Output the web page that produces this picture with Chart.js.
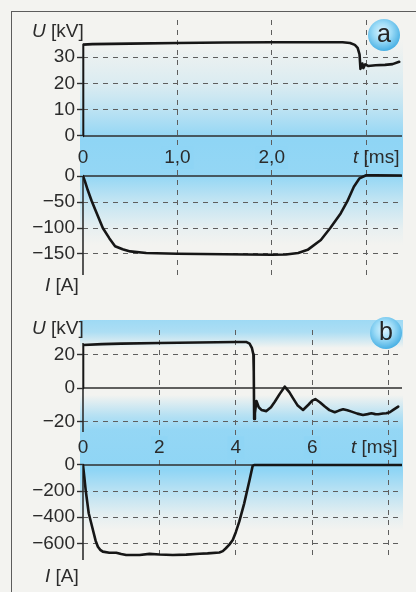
<!DOCTYPE html>
<html>
<head>
<meta charset="utf-8">
<script src="https://cdn.jsdelivr.net/npm/chart.js@4.4.1/dist/chart.umd.min.js"></script>
<style>
  html, body { margin: 0; padding: 0; }
  body {
    width: 416px; height: 592px; position: relative; overflow: hidden;
    background: #f3f3f0;
    font-family: "Liberation Sans", Arial, sans-serif; color: #2b2b2b;
  }
  .frame {
    position: absolute; left: 11px; top: 11px; width: 430px; height: 600px;
    border: 1.5px solid #5c5c5c; box-sizing: border-box;
  }
  .band { position: absolute; left: 80px; width: 323px; }
  #bandA {
    top: 40px; height: 220px;
    background: linear-gradient(to bottom,
      rgba(143,213,245,0) 0px, rgba(143,213,245,0.25) 45px, rgba(143,213,245,0.55) 70px,
      rgba(143,213,245,1) 100px, rgba(143,213,245,0.95) 136px, rgba(143,213,245,0.5) 160px,
      rgba(143,213,245,0.1) 190px, rgba(143,213,245,0) 205px);
  }
  #bandB {
    top: 320px; height: 220px;
    background: linear-gradient(to bottom,
      rgba(143,213,245,0.85) 0px, rgba(143,213,245,0.7) 12px, rgba(143,213,245,0) 28px,
      rgba(143,213,245,0) 75px, rgba(143,213,245,0.6) 95px, rgba(143,213,245,0.95) 110px,
      rgba(143,213,245,1) 150px, rgba(143,213,245,0.6) 170px, rgba(143,213,245,0.15) 195px,
      rgba(143,213,245,0) 210px);
  }
  canvas { position: absolute; left: 0; }
  #chartA { top: 0; }
  #chartB { top: 300px; }
  .lbl { position: absolute; font-size: 19px; line-height: 22px; white-space: nowrap; z-index: 2; }
  .badge {
    position: absolute; width: 32px; height: 32px; border-radius: 50%; z-index: 2;
    background: radial-gradient(circle at 45% 40%, #dff5ff 0%, #9edcf7 35%, #45aee3 75%, #2384c4 100%);
    font-size: 25px; line-height: 29px; text-align: center; color: #262626;
  }
</style>
</head>
<body>
<div class="frame"></div>
<div class="band" id="bandA"></div>
<div class="band" id="bandB"></div>
<canvas id="chartA" width="416" height="290"></canvas>
<canvas id="chartB" width="416" height="292"></canvas>

<div class="lbl" style="left:32px; top:20px;"><i>U</i> [kV]</div>
<div class="lbl" style="left:45px; top:274px;"><i>I</i> [A]</div>
<div class="lbl" style="left:353px; top:146px;"><i>t</i> [ms]</div>
<div class="badge" style="left:368px; top:19px;">a</div>

<div class="lbl" style="left:32px; top:317px;"><i>U</i> [kV]</div>
<div class="lbl" style="left:45px; top:565px;"><i>I</i> [A]</div>
<div class="lbl" style="left:351px; top:436px;"><i>t</i> [ms]</div>
<div class="badge" style="left:370px; top:317px;">b</div>

<script>
// ---- panel a: voltage (kV) and current (A) over time (ms) ----
const A_T_VOLT = [0, 0, 0.1, 0.5, 1.0, 1.5, 2.0, 2.5, 2.75, 2.83, 2.88, 2.91, 2.93, 2.94, 2.96, 2.97, 2.99, 3.02, 3.1, 3.2, 3.28, 3.35];
const A_VOLT   = [0, 34.7, 34.9, 35.1, 35.3, 35.5, 35.6, 35.6, 35.6, 35.3, 34.6, 33.5, 31, 25.5, 27.5, 25.8, 27.2, 26.6, 26.9, 27.0, 27.3, 28.2];
const A_T_CURR = [0, 0.02, 0.05, 0.09, 0.13, 0.21, 0.28, 0.34, 0.42, 0.5, 0.67, 1.0, 1.5, 2.0, 2.15, 2.28, 2.38, 2.52, 2.62, 2.73, 2.8, 2.87, 2.93, 3.0, 3.1, 3.37];
const A_CURR   = [0, -10, -27, -47, -65, -100, -120, -135, -141, -145, -148, -149.5, -150.5, -151.5, -151, -148, -142, -123, -100, -72, -49, -20.5, -4.5, 1.5, 1.5, 1];
const A_U_TICKS = [0, 10, 20, 30];
const A_I_TICKS = [0, -50, -100, -150];
const A_T_TICKS = [0, 1, 2, 3];
const A_T_LABELS = ['0', '1,0', '2,0', ''];

// ---- panel b ----
const B_T_VOLT = [0, 0, 0.5, 1, 2, 3, 4, 4.27, 4.36, 4.42, 4.46, 4.47, 4.48, 4.5, 4.54, 4.6, 4.67, 4.8, 4.92, 5.02, 5.15, 5.28, 5.4, 5.5, 5.62, 5.76, 5.9, 6.0, 6.08, 6.2, 6.33, 6.45, 6.59, 6.7, 6.81, 6.92, 7.03, 7.18, 7.33, 7.45, 7.55, 7.65, 7.73, 7.85, 7.94, 8.03, 8.12, 8.25];
const B_VOLT   = [0, 25.7, 26.2, 26.5, 26.9, 27.2, 27.5, 27.5, 26.5, 24, 20, 10, -18.5, -15, -7.8, -11.5, -13.1, -13.8, -11.5, -8.2, -3.5, 0.8, -2.5, -6.2, -10.5, -13.1, -10, -7.5, -6.6, -8.5, -11.1, -13.2, -14.5, -13.5, -12.7, -13.3, -14.1, -15.3, -16.1, -15.6, -15.1, -15.6, -15.7, -15.2, -15.1, -14.5, -13.1, -11.1];
const B_T_CURR = [0, 0.03, 0.07, 0.15, 0.26, 0.33, 0.39, 0.45, 0.52, 0.69, 0.87, 1.0, 1.13, 1.48, 1.74, 2.0, 2.35, 2.7, 3.05, 3.26, 3.57, 3.66, 3.74, 3.83, 3.92, 4.0, 4.09, 4.22, 4.36, 4.44, 4.48, 6.0, 8.35];
const B_CURR   = [0, -80, -192, -370, -498, -580, -626, -650, -664, -672, -672, -682, -690, -690, -681, -686, -690, -687, -680, -677, -670, -660, -638, -610, -575, -515, -434, -294, -115, -8, 0, 0, 0];
const B_U_TICKS = [20, 0, -20];
const B_I_TICKS = [0, -200, -400, -600];
const B_T_TICKS = [0, 2, 4, 6, 8];
const B_T_LABELS = ['0', '2', '4', '6', ''];

const BLUE = 'rgb(143,213,245)';
const INK = '#2b2b2b';
const TICK_FONT = { family: '"Liberation Sans", Arial, sans-serif', size: 19 };

// zero lines and the short axis pieces on the left edge
const panelLines = {
    id: 'panelLines',
    beforeDatasetsDraw(chart, args, opts) {
        const { ctx, chartArea, scales } = chart;
        ctx.save();
        ctx.strokeStyle = '#2e2e2e';
        ctx.lineWidth = 1.6;
        ['yU', 'yI'].forEach(id => {
            const y0 = scales[id].getPixelForValue(0);
            ctx.beginPath();
            ctx.moveTo(chartArea.left, y0);
            ctx.lineTo(chartArea.right, y0);
            ctx.stroke();
            const span = opts[id];
            ctx.beginPath();
            ctx.moveTo(chartArea.left, scales[id].getPixelForValue(span[0]));
            ctx.lineTo(chartArea.left, scales[id].getPixelForValue(span[1]));
            ctx.stroke();
        });
        ctx.restore();
    }
};

function toPoints(xs, ys) {
    return xs.map((x, i) => ({ x: x, y: ys[i] }));
}

function fmt(v) {
    return v < 0 ? '\u2212' + (-v) : String(v);
}

// voltage on top, current below: both stacked on the left edge
function yScale(ticks, min, max, weight, stackWeight) {
    return {
        type: 'linear',
        position: 'left',
        stack: 'panel',
        stackWeight: stackWeight,
        weight: weight,
        min: min,
        max: max,
        afterBuildTicks: s => { s.ticks = ticks.map(v => ({ value: v })); },
        afterFit: s => { s.width = 72; },
        ticks: { autoSkip: false, padding: 2, color: INK, font: TICK_FONT, callback: v => fmt(v) },
        grid: {
            color: c => (c.tick && c.tick.value === 0) ? 'transparent' : '#5e5e5e',
            lineWidth: 1,
            tickLength: 6,
            tickWidth: 1.4,
            tickColor: '#2e2e2e',
            tickBorderDash: []
        },
        border: { display: false, dash: [5, 5] }
    };
}

function makePanel(id, cfg) {
    const last = cfg.tTicks.length - 1;
    return new Chart(document.getElementById(id), {
        type: 'line',
        data: {
            datasets: [
                { data: toPoints(cfg.tU, cfg.u), yAxisID: 'yU' },
                { data: toPoints(cfg.tI, cfg.i), yAxisID: 'yI' }
            ]
        },
        plugins: [panelLines],
        options: {
            responsive: false,
            animation: false,
            layout: { padding: { left: 11, right: 14, top: cfg.padTop, bottom: cfg.padBottom } },
            elements: {
                point: { radius: 0 },
                line: { borderColor: '#161616', borderWidth: 2.6, tension: 0, borderJoinStyle: 'round', borderCapStyle: 'round' }
            },
            plugins: {
                legend: { display: false },
                tooltip: { enabled: false },
                panelLines: { yU: cfg.uSpan, yI: cfg.iSpan }
            },
            scales: {
                x: {
                    type: 'linear',
                    min: 0,
                    max: cfg.tMax,
                    position: { yU: cfg.labelAt },
                    afterBuildTicks: s => { s.ticks = cfg.tTicks.map(v => ({ value: v })); },
                    ticks: {
                        autoSkip: false, maxRotation: 0, padding: 0,
                        color: INK, font: TICK_FONT,
                        callback: (v, i) => cfg.tLabels[i],
                        showLabelBackdrop: true,
                        backdropColor: c => (c.index === 0 || c.index === last) ? 'transparent' : BLUE,
                        backdropPadding: { x: 3, y: 0 }
                    },
                    grid: {
                        color: c => (c.tick && c.tick.value === 0) ? 'transparent' : '#5e5e5e',
                        lineWidth: 1,
                        drawTicks: false
                    },
                    border: { display: false, dash: [5, 5] }
                },
                yU: yScale(cfg.uTicks, cfg.uMin, cfg.uMax, 1, cfg.uWeight),
                yI: yScale(cfg.iTicks, cfg.iMin, cfg.iMax, 0, cfg.iWeight)
            }
        }
    });
}

// panel a: plot area 20..275 px, split at 156 px
makePanel('chartA', {
    tU: A_T_VOLT, u: A_VOLT, tI: A_T_CURR, i: A_CURR,
    uTicks: A_U_TICKS, iTicks: A_I_TICKS, tTicks: A_T_TICKS, tLabels: A_T_LABELS,
    tMax: 3.38, uMin: -7.6, uMax: 44.06, iMin: -190.4, iMax: 38.5,
    uWeight: 136, iWeight: 119,
    uSpan: [0, 35], iSpan: [0, -190.4], labelAt: -3.9,
    padTop: 20, padBottom: 15
});

// panel b: plot area 330..560 px, split at 442 px
makePanel('chartB', {
    tU: B_T_VOLT, u: B_VOLT, tI: B_T_CURR, i: B_CURR,
    uTicks: B_U_TICKS, iTicks: B_I_TICKS, tTicks: B_T_TICKS, tLabels: B_T_LABELS,
    tMax: 8.35, uMin: -32.24, uMax: 34.63, iMin: -728, iMax: 176.2,
    uWeight: 112, iWeight: 118,
    uSpan: [-26.3, 26.9], iSpan: [0, -728], labelAt: -28.8,
    padTop: 30, padBottom: 32
});
</script>
</body>
</html>
